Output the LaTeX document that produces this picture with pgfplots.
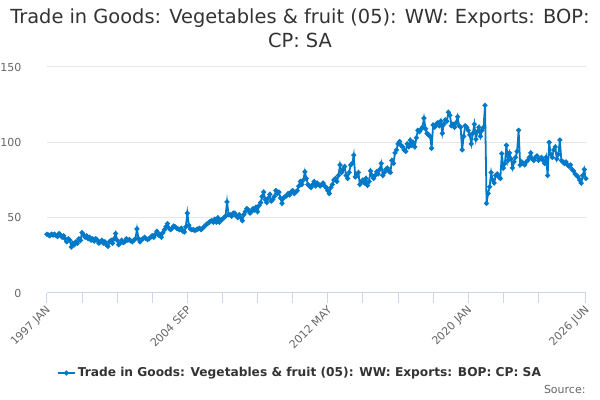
\documentclass[border=0pt]{standalone}
\usepackage{fontspec}
\setmainfont{DejaVu Sans}
\usepackage{pgfplots}
\pgfplotsset{compat=1.18}
\usepackage{pgfplotstable}
\definecolor{series}{RGB}{0,121,200}
\definecolor{titlegray}{HTML}{333333}
\definecolor{labelgray}{HTML}{666666}
\definecolor{gridgray}{HTML}{E6E6E6}
\definecolor{axisgray}{HTML}{CCD6EB}
\pgfplotstableread[row sep=\\]{
v\\
39\\ 38.5\\ 38\\ 39\\ 38.5\\ 39\\ 38\\ 37.5\\ 39.5\\ 38.5\\ 37\\ 38\\
36\\ 34\\ 36\\ 35\\ 30.5\\ 33\\ 32\\ 34\\ 33\\ 36\\ 35\\ 40\\
38.5\\ 37\\ 38\\ 36\\ 37\\ 35\\ 36\\ 34.5\\ 36\\ 35\\ 33\\ 34\\
35\\ 33\\ 34\\ 32\\ 31\\ 34\\ 35\\ 33\\ 36\\ 39.5\\ 35\\ 32\\
33\\ 35\\ 33.5\\ 34\\ 36\\ 35\\ 35.5\\ 34.5\\ 34\\ 35\\ 36\\ 42.5\\
36\\ 34\\ 35.5\\ 36\\ 37\\ 36\\ 35.5\\ 36\\ 37\\ 38\\ 37\\ 39\\
41\\ 38.5\\ 39\\ 37\\ 40\\ 42\\ 44\\ 46\\ 43\\ 42\\ 43\\ 44.5\\
44\\ 43\\ 42.5\\ 42\\ 43\\ 41\\ 40.5\\ 44\\ 53\\ 45\\ 42.5\\ 42\\
42\\ 41.5\\ 42\\ 42.5\\ 43\\ 42\\ 43\\ 44\\ 45\\ 46\\ 46.5\\ 47.5\\
48\\ 47\\ 49\\ 47\\ 50\\ 47\\ 48.5\\ 49\\ 50\\ 51\\ 60.5\\ 52\\
52\\ 51\\ 53\\ 53\\ 51\\ 50\\ 52\\ 50\\ 48\\ 52\\ 54\\ 56\\
55\\ 53\\ 54\\ 56\\ 55\\ 57\\ 54\\ 58\\ 60\\ 64\\ 67\\ 62\\
60\\ 63\\ 65.5\\ 61\\ 62\\ 64\\ 68\\ 66\\ 67\\ 63\\ 59.5\\ 63\\
64\\ 64.5\\ 66\\ 65\\ 67\\ 68\\ 66\\ 67\\ 68\\ 71\\ 74\\ 72\\
75\\ 80.5\\ 76\\ 72\\ 71\\ 70\\ 72\\ 74\\ 71\\ 73\\ 72\\ 71\\
72\\ 73\\ 71\\ 70\\ 68\\ 66\\ 70\\ 72\\ 75\\ 76\\ 74\\ 78\\
85\\ 80\\ 82\\ 84\\ 78\\ 76\\ 80\\ 85\\ 86\\ 91.5\\ 77\\ 78\\
80\\ 72\\ 74\\ 75\\ 73\\ 76\\ 71.5\\ 74\\ 81\\ 78\\ 76\\ 78\\
80.5\\ 79\\ 82\\ 86\\ 78\\ 80\\ 82\\ 83\\ 81\\ 80\\ 88\\ 86\\
93\\ 95\\ 99\\ 100.5\\ 98\\ 97\\ 95\\ 94\\ 99\\ 97\\ 101.5\\ 98\\
100\\ 97\\ 103\\ 108\\ 107\\ 108.5\\ 110\\ 116\\ 109\\ 106\\ 105\\ 104\\
96\\ 111.5\\ 110\\ 112\\ 113\\ 111\\ 114\\ 106\\ 112\\ 115\\ 114\\ 120\\
118\\ 111\\ 112\\ 110\\ 113\\ 117\\ 111\\ 110\\ 95\\ 104\\ 111\\ 110\\
108\\ 105\\ 99\\ 106\\ 112\\ 102\\ 107\\ 110\\ 104\\ 108\\ 110\\ 124.5\\
59.5\\ 66\\ 70.5\\ 80\\ 75\\ 73\\ 78\\ 79\\ 77\\ 76\\ 92.5\\ 83\\
86\\ 98\\ 88\\ 93\\ 89\\ 83\\ 87\\ 90\\ 94\\ 108\\ 85\\ 87\\
86\\ 85\\ 87\\ 88\\ 90\\ 93\\ 89\\ 88\\ 90\\ 91\\ 88\\ 89\\
90\\ 88\\ 86\\ 90\\ 78\\ 100\\ 92\\ 90\\ 95\\ 97\\ 89\\ 92\\
101.5\\ 88\\ 87\\ 86\\ 87\\ 85\\ 84\\ 85\\ 82\\ 81\\ 79\\ 78\\
77\\ 75\\ 73\\ 78\\ 82\\ 76\\
}\exportdata
\begin{document}
\begin{tikzpicture}
\path[use as bounding box] (0,0) rectangle (600bp,400bp);
\begin{axis}[
  at={(46.9bp,107bp)}, anchor=south west,
  scale only axis, width=538.9bp, height=226bp,
  xmin=0, xmax=353, ymin=0, ymax=150,
  axis x line*=bottom, axis y line*=left,
  x axis line style={draw=axisgray, line width=1bp, -},
  y axis line style={draw=none},
  ytick={0,50,100,150},
  ymajorgrids, grid style={draw=gridgray, line width=1bp},
  ytick style={draw=none},
  xtick={0,92,184,276,353},
  xticklabels={1997 JAN,2004 SEP,2012 MAY,2020 JAN,2026 JUN},
  minor xtick={23,46,69,115,138,161,207,230,253,299,322},
  xtick style={draw=axisgray, line width=1bp},
  minor x tick style={draw=axisgray, line width=1bp},
  tick align=outside, major tick length=10bp, minor tick length=10bp,
  /pgf/number format/assume math mode=true,
  yticklabel style={font=\fontsize{11bp}{13bp}\selectfont, text=labelgray, xshift=-12bp},
  xticklabel style={font=\fontsize{11bp}{13bp}\selectfont, text=labelgray, rotate=45, anchor=east, xshift=1bp, yshift=-5bp},
  legend style={at={(0.4696,-0.354)}, anchor=center, draw=none, fill=none,
    font=\bfseries\fontsize{12.2bp}{14bp}\selectfont, text=titlegray},
  legend cell align=left,
]
\addplot[color=series, line width=1.8bp, mark=*, mark size=1.5bp] table[x expr=\coordindex, y=v] {\exportdata};
\addlegendentry{Trade in Goods: Vegetables \& fruit (05): WW: Exports: BOP: CP: SA}
\end{axis}
\node[font=\fontsize{19.4bp}{22bp}\selectfont, text=titlegray] at (300bp,382bp) {Trade in Goods: Vegetables \& fruit (05): WW: Exports: BOP:};
\node[font=\fontsize{19.4bp}{22bp}\selectfont, text=titlegray] at (300bp,360bp) {CP: SA};
\node[anchor=east, font=\fontsize{11bp}{13bp}\selectfont, text=labelgray] at (589bp,11bp) {Source:};
\end{tikzpicture}
\end{document}
